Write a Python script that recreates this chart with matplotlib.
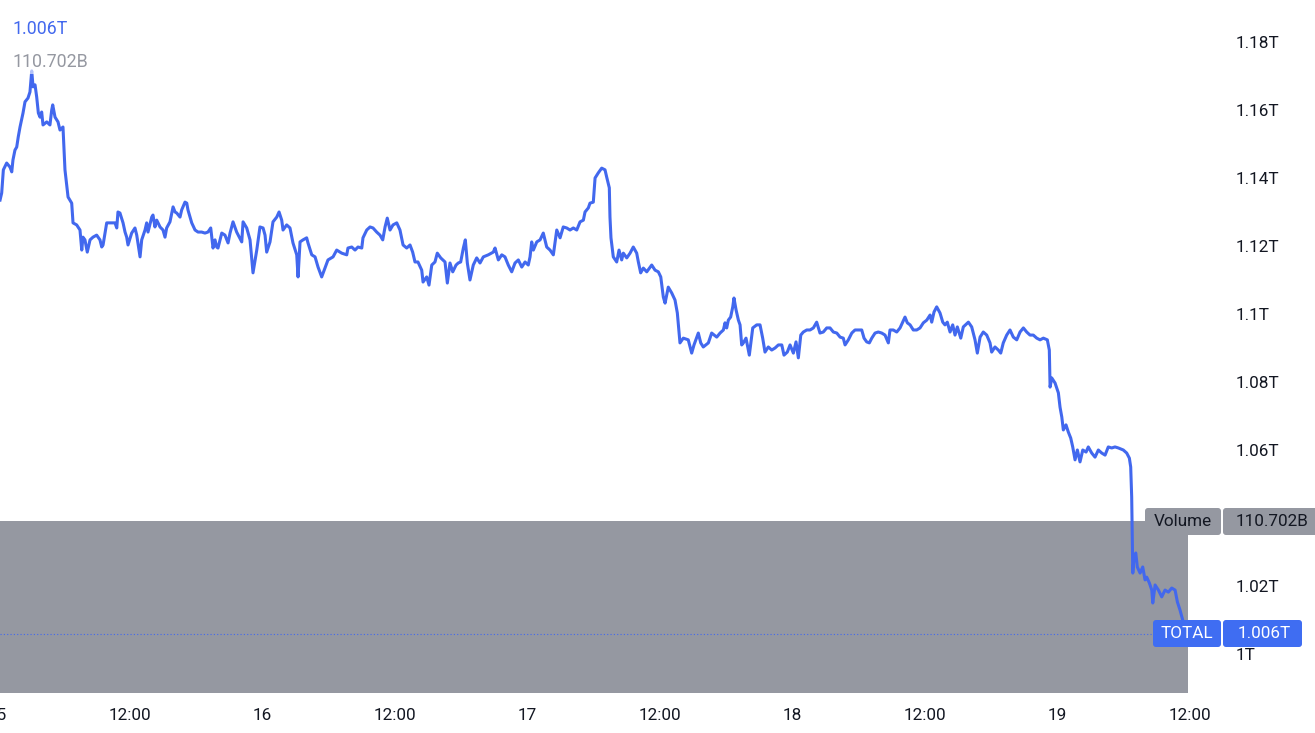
import matplotlib
matplotlib.use("Agg")
import matplotlib.pyplot as plt
from matplotlib.patches import FancyBboxPatch
from matplotlib.transforms import IdentityTransform, offset_copy

# ---------------- data ----------------
# hours since 15th 00:00
hours = [0.23,0.38,0.53,0.83,1.13,1.29,1.40,1.58,1.74,1.88,2.04,2.31,2.49,2.76,2.94,3.10,3.22,3.40,3.55,3.70,
 3.85,4.00,4.12,4.46,4.75,4.91,5.00,5.21,5.48,5.66,5.93,6.11,6.39,6.72,6.84,7.17,7.47,7.63,7.74,7.92,
 8.13,8.38,8.65,8.98,9.28,9.44,9.56,9.89,10.19,10.64,10.80,10.91,11.09,11.37,11.55,11.70,11.82,12.15,12.45,12.61,
 12.91,13.06,13.36,13.51,13.63,13.97,14.08,14.26,14.42,14.54,14.72,14.99,15.17,15.32,15.62,15.90,16.08,16.23,16.53,16.68,
 16.98,17.14,17.25,17.59,17.89,18.16,18.49,18.79,19.06,19.31,19.52,19.70,19.85,19.97,20.31,20.60,20.88,21.06,
 21.33,21.66,22.12,22.24,22.57,22.87,23.14,23.48,23.77,24.05,24.23,24.38,24.68,24.95,25.29,25.50,25.74,25.86,26.19,26.49,
 26.76,27.10,27.22,27.40,27.67,28.00,28.12,28.46,28.76,29.03,29.36,29.66,29.93,30.39,30.72,31.17,31.63,31.74,32.08,32.38,
 32.65,32.99,33.10,33.44,33.74,34.01,34.34,34.64,34.89,35.10,35.30,35.55,35.82,36.16,36.45,36.73,37.06,37.36,37.60,37.81,
 38.08,38.42,38.54,38.87,39.08,39.33,39.62,39.83,40.14,40.53,40.74,40.98,41.23,41.53,41.73,41.95,42.19,42.37,42.55,42.79,43.09,
 43.40,43.70,44.00,44.45,44.90,45.06,45.36,45.67,45.96,46.26,46.57,46.87,47.17,47.48,47.78,48.07,48.23,48.38,48.53,48.84,
 49.14,49.43,49.74,50.04,50.34,50.65,50.95,51.24,51.55,51.85,52.15,52.46,52.76,53.06,53.21,53.51,53.66,53.96,54.12,54.41,
 54.72,55.02,55.17,55.41,55.47,55.56,55.77,56.08,56.29,56.53,56.68,56.99,57.29,57.58,57.89,58.04,58.25,58.49,58.80,59.25,
 59.55,59.85,60.07,60.30,60.46,60.75,61.06,61.36,61.57,61.81,62.11,62.56,62.87,63.08,63.47,63.69,63.92,64.38,
 64.68,65.14,65.44,65.74,65.89,66.04,66.19,66.40,66.59,66.70,66.89,67.10,67.25,67.40,67.55,67.79,68.09,68.40,68.76,69.06,
 69.30,69.51,69.81,70.12,70.42,70.72,71.03,71.23,71.53,71.78,72.08,72.32,72.53,72.75,72.98,73.29,73.59,73.89,74.19,74.49,
 74.79,75.10,75.40,75.70,76.01,76.31,76.60,76.76,77.06,77.37,77.66,77.96,78.27,78.48,78.72,78.96,79.18,79.48,79.77,80.08,
 80.38,80.68,80.83,81.13,81.44,81.74,81.98,82.19,82.40,82.65,82.94,83.25,83.55,83.85,84.16,84.46,84.61,84.82,85.06,85.36,
 85.61,85.81,86.02,86.27,86.51,86.72,86.93,87.24,
 87.47,87.93,88.23,88.53,88.74,88.99,89.28,89.59,89.89,90.04,90.34,90.64,90.86,91.09,91.40,91.70,92.00,92.31,92.61,92.91,
 93.21,93.51,93.81,94.12,94.42,94.72,95.08,95.26,95.33,95.48,95.78,96.08,96.23,96.39,96.53,96.77,96.98,97.20,97.38,97.59,
 97.80,98.04,98.29,98.59,98.79,99.10,99.40,99.70,100.01,100.31,100.60,100.91,101.21,101.51,101.96,102.27,102.51,102.63,102.72,102.78,
 102.82,102.93,103.09,103.23,103.48,103.72,103.93,104.08,104.32,104.54,104.63,104.84,105.14,105.44,105.74,106.04,106.35,106.65,106.86,107.10,
 107.34,107.55]

# TOTAL market cap, trillions
total = [1.1335,1.1356,1.1424,1.1444,1.1432,1.1418,1.1453,1.1482,1.1491,1.1521,1.1550,1.1591,1.1624,1.1635,1.1653,1.1715,1.1668,1.1674,1.1638,1.1591,
 1.1579,1.1594,1.1556,1.1565,1.1556,1.1600,1.1615,1.1579,1.1565,1.1541,1.1550,1.1424,1.1344,1.1326,1.1268,1.1262,1.1247,1.1188,1.1226,1.1218,
 1.1182,1.1218,1.1226,1.1232,1.1218,1.1197,1.1203,1.1268,1.1268,1.1268,1.1253,1.1300,1.1297,1.1268,1.1241,1.1226,1.1203,1.1238,1.1253,1.1232,
 1.1168,1.1218,1.1247,1.1268,1.1241,1.1285,1.1291,1.1256,1.1276,1.1268,1.1256,1.1247,1.1226,1.1253,1.1271,1.1315,1.1300,1.1297,1.1285,1.1306,
 1.1329,1.1326,1.1306,1.1268,1.1247,1.1241,1.1241,1.1238,1.1241,1.1253,1.1194,1.1218,1.1197,1.1194,1.1238,1.1232,1.1209,1.1238,
 1.1271,1.1241,1.1212,1.1271,1.1253,1.1218,1.1121,1.1188,1.1256,1.1253,1.1232,1.1182,1.1212,1.1271,1.1285,1.1300,1.1276,1.1247,1.1262,1.1253,
 1.1209,1.1174,1.1109,1.1212,1.1218,1.1224,1.1209,1.1174,1.1168,1.1138,1.1109,1.1135,1.1159,1.1168,1.1188,1.1179,1.1174,1.1194,1.1197,1.1188,
 1.1197,1.1194,1.1224,1.1247,1.1256,1.1253,1.1241,1.1232,1.1218,1.1256,1.1282,1.1247,1.1262,1.1268,1.1247,1.1203,1.1194,1.1203,1.1182,1.1153,
 1.1153,1.1129,1.1094,1.1109,1.1085,1.1144,1.1153,1.1179,1.1165,1.1153,1.1091,1.1150,1.1124,1.1144,1.1150,1.1153,1.1194,1.1218,1.1150,1.1100,1.1144,
 1.1165,1.1150,1.1168,1.1174,1.1182,1.1194,1.1159,1.1174,1.1168,1.1144,1.1124,1.1150,1.1159,1.1138,1.1153,1.1144,1.1168,1.1212,1.1188,1.1212,
 1.1218,1.1238,1.1197,1.1188,1.1174,1.1247,1.1224,1.1256,1.1253,1.1247,1.1253,1.1247,1.1271,1.1276,1.1300,1.1312,1.1326,1.1329,1.1400,1.1415,
 1.1429,1.1424,1.1403,1.1371,1.1285,1.1224,1.1168,1.1153,1.1188,1.1159,1.1179,1.1165,1.1179,1.1197,1.1179,1.1153,1.1121,1.1135,1.1124,1.1144,
 1.1129,1.1124,1.1109,1.1050,1.1032,1.1079,1.1062,1.1041,1.1003,1.0915,1.0929,1.0924,1.0885,1.0909,1.0944,1.0915,1.0903,1.0915,
 1.0944,1.0932,1.0944,1.0953,1.0974,1.0959,1.0982,1.0991,1.1021,1.1047,1.1012,1.0982,1.0968,1.0909,1.0915,1.0929,1.0879,1.0959,1.0968,1.0968,
 1.0929,1.0888,1.0903,1.0894,1.0900,1.0909,1.0909,1.0879,1.0888,1.0909,1.0885,1.0918,1.0871,1.0938,1.0947,1.0953,1.0953,1.0959,1.0976,1.0944,
 1.0947,1.0959,1.0959,1.0947,1.0944,1.0932,1.0929,1.0909,1.0924,1.0944,1.0953,1.0953,1.0953,1.0929,1.0918,1.0915,1.0929,1.0944,1.0947,1.0944,
 1.0938,1.0915,1.0953,1.0953,1.0947,1.0959,1.0976,1.0991,1.0974,1.0968,1.0953,1.0953,1.0959,1.0974,1.0982,1.0997,1.0976,1.1006,1.1021,1.1003,
 1.0976,1.0968,1.0976,1.0947,1.0968,1.0938,1.0962,1.0929,
 1.0962,1.0976,1.0962,1.0924,1.0885,1.0932,1.0947,1.0938,1.0915,1.0888,1.0903,1.0894,1.0885,1.0915,1.0938,1.0953,1.0932,1.0924,1.0947,1.0959,
 1.0947,1.0938,1.0938,1.0929,1.0924,1.0929,1.0924,1.0894,1.0785,1.0812,1.0797,1.0768,1.0726,1.0697,1.0659,1.0674,1.0653,1.0635,1.0609,1.0571,
 1.0600,1.0565,1.0600,1.0594,1.0609,1.0591,1.0579,1.0600,1.0591,1.0585,1.0609,1.0606,1.0609,1.0606,1.0600,1.0591,1.0576,1.0550,1.0462,1.0326,
 1.0238,1.0285,1.0297,1.0256,1.0238,1.0256,1.0218,1.0226,1.0209,1.0188,1.0150,1.0203,1.0188,1.0168,1.0188,1.0182,1.0194,1.0188,1.0153,1.0129,
 1.0100,1.0060]

# 1.04T is hidden behind the volume label in the reference, so it is not listed
price_ticks = [1.00, 1.02, 1.06, 1.08, 1.10, 1.12, 1.14, 1.16, 1.18]
price_labels = ["1T", "1.02T", "1.06T", "1.08T", "1.1T", "1.12T", "1.14T", "1.16T", "1.18T"]
time_ticks = [0, 12, 24, 36, 48, 60, 72, 84, 96, 108]
time_labels = ["15", "12:00", "16", "12:00", "17", "12:00", "18", "12:00", "19", "12:00"]
symbol = "TOTAL"
last_total = 1.006
last_total_label = "1.006T"
volume_label = "Volume"
last_volume_label = "110.702B"

# ---------------- style ----------------
W, H = 1315, 733
BLUE = "#4268ee"
BOX_BLUE = "#3f6df2"
GRAY = "#9598a1"
TXT = "#131722"
plt.rcParams["font.family"] = ["Roboto", "DejaVu Sans"]

fig = plt.figure(figsize=(W / 100, H / 100), dpi=100, facecolor="white")

plot_w = 1188
plot_bottom = 693
vol_top = 521

# volume pane (background)
axv = fig.add_axes([0, (H - plot_bottom) / H, plot_w / W, (plot_bottom - vol_top) / H])
axv.set_facecolor(GRAY)
axv.set_xticks([]); axv.set_yticks([])
for s in axv.spines.values():
    s.set_visible(False)
axv.set_zorder(0)

# price pane
ax = fig.add_axes([0, (H - plot_bottom) / H, plot_w / W, plot_bottom / H])
ax.set_zorder(1)
ax.patch.set_visible(False)
for s in ax.spines.values():
    s.set_visible(False)

ax.plot(hours, total, color=BLUE, lw=2.2, solid_joinstyle="round", zorder=3)
ax.axhline(last_total, color=BLUE, lw=0.8, ls=(0, (1, 2)), zorder=2)

ax.set_xlim(0.226, 107.82)
ax.set_ylim(0.98853, 1.19235)

ax.yaxis.tick_right()
ax.set_yticks(price_ticks)
ax.set_yticklabels(price_labels)
ax.tick_params(axis="y", length=0, pad=34, labelsize=12.3, labelcolor=TXT)
ax.set_xticks([])

xtr = offset_copy(ax.get_xaxis_transform(), fig=fig, y=-23, units="dots")
for t, lab in zip(time_ticks, time_labels):
    ax.text(t, 0, lab, transform=xtr, ha="center", va="center", fontsize=12.3,
            color=TXT, clip_on=False)

# ---------------- label boxes ----------------
def box(x0, y0, x1, y1, color, r=3):
    p = FancyBboxPatch((x0, H - y1), x1 - x0, y1 - y0,
                       boxstyle=f"round,pad=0,rounding_size={r}",
                       transform=IdentityTransform(), facecolor=color,
                       edgecolor="none", zorder=5)
    fig.add_artist(p)

def ftext(x, y, s, **kw):
    fig.text(x / W, 1 - y / H, s, zorder=6, **kw)

box(1145, 508, 1221, 535, GRAY)
box(1223, 508, 1320, 535, GRAY)
ftext(1183, 521.5, volume_label, ha="center", va="center", fontsize=12.3, color=TXT)
ftext(1272, 521.5, last_volume_label, ha="center", va="center", fontsize=12.3, color=TXT)

box(1153, 620, 1221, 647, BOX_BLUE)
box(1223, 620, 1302, 647, BOX_BLUE)
ftext(1187, 633.5, symbol, ha="center", va="center", fontsize=12.3, color="white")
ftext(1264, 633.5, last_total_label, ha="center", va="center", fontsize=12.3, color="white")

# top-left legend values
ftext(12, 29, last_total_label, ha="left", va="center", fontsize=12.8, color=BLUE)
ftext(12, 62, last_volume_label, ha="left", va="center", fontsize=12.8, color=GRAY,
      bbox=dict(boxstyle="square,pad=0.15", facecolor="white", edgecolor="none", alpha=0.6))

fig.savefig("out.png", dpi=100, facecolor="white")
